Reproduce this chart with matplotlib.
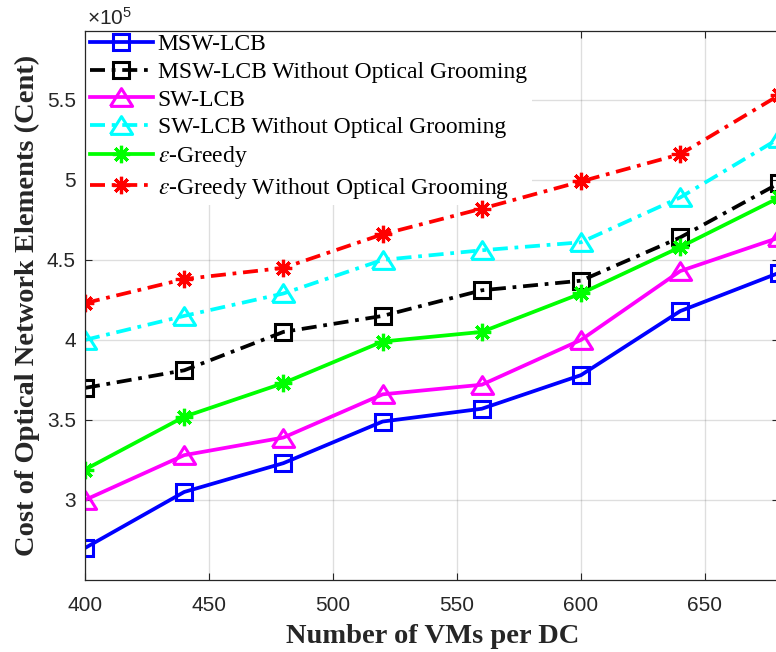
import matplotlib
matplotlib.use("Agg")
import matplotlib.pyplot as plt
import numpy as np

plt.rcParams['mathtext.fontset'] = 'custom'
plt.rcParams['mathtext.rm'] = 'Liberation Sans'
plt.rcParams['mathtext.it'] = 'Liberation Sans:italic'

# ---- data (values in units of 1e5 Cent) ----
vms = [400, 440, 480, 520, 560, 600, 640, 680]
msw_lcb = [2.70, 3.05, 3.23, 3.49, 3.57, 3.78, 4.18, 4.42]
msw_lcb_no_og = [3.70, 3.81, 4.05, 4.15, 4.31, 4.37, 4.64, 4.98]
sw_lcb = [3.00, 3.28, 3.39, 3.66, 3.72, 4.00, 4.43, 4.64]
sw_lcb_no_og = [4.00, 4.15, 4.29, 4.50, 4.56, 4.61, 4.89, 5.26]
eps_greedy = [3.19, 3.52, 3.73, 3.99, 4.05, 4.29, 4.58, 4.89]
eps_greedy_no_og = [4.23, 4.38, 4.45, 4.66, 4.82, 4.99, 5.16, 5.53]

labels = ["MSW-LCB", "MSW-LCB Without Optical Grooming", "SW-LCB",
          "SW-LCB Without Optical Grooming", r"$\epsilon$-Greedy",
          r"$\epsilon$-Greedy Without Optical Grooming"]
xticks = [400, 450, 500, 550, 600, 650]
yticks = [3.0, 3.5, 4.0, 4.5, 5.0, 5.5]
ytick_labels = ["3", "3.5", "4", "4.5", "5", "5.5"]

W, H = 776, 652
fig = plt.figure(figsize=(W / 100, H / 100), dpi=100)
L, R, T, B = 85, 779.4, 31, 580
ax = fig.add_axes([L / W, 1 - B / H, (R - L) / W, (B - T) / H])

dashdot = (0, (4.0, 1.8, 1.0, 1.8))
tri = [(-1, -0.8), (1, -0.8), (0, 0.8), (-1, -0.8)]
lw = 2.7
series = [
    (msw_lcb, (0, 0, 1), '-', 's', 12, 2.2),
    (msw_lcb_no_og, (0, 0, 0), dashdot, 's', 12, 2.2),
    (sw_lcb, (1, 0, 1), '-', tri, 16, 2.2),
    (sw_lcb_no_og, (0, 1, 1), dashdot, tri, 16, 2.2),
    (eps_greedy, (0, 1, 0), '-', (8, 2, 0), 12.5, 2.3),
    (eps_greedy_no_og, (1, 0, 0), dashdot, (8, 2, 0), 12.5, 2.3),
]
for (vals, col, ls, mk, ms, mew), lab in zip(series, labels):
    ax.plot(vms, vals, color=col, linestyle=ls, linewidth=lw, marker=mk,
            markersize=ms, markeredgewidth=mew, markerfacecolor='none',
            markeredgecolor=col, label=lab, clip_on=True)

ax.set_xlim(400, 680)
ax.set_ylim(2.5, 5.93)
ax.set_xticks(xticks)
ax.set_yticks(yticks)
ax.set_yticklabels(ytick_labels)
ax.grid(True, color=(0.15, 0.15, 0.15), alpha=0.15, linewidth=1.0)
ax.set_axisbelow(True)
gray = (0.15, 0.15, 0.15)
ax.tick_params(direction='in', length=5, width=0.8, colors=gray,
               top=True, right=True, labelsize=15)
ax.tick_params(axis='x', pad=11.5)
ax.tick_params(axis='y', pad=6.5)
for lab in ax.get_xticklabels() + ax.get_yticklabels():
    lab.set_fontfamily('Liberation Sans')
for s in ax.spines.values():
    s.set_color(gray)
    s.set_linewidth(0.9)

ax.set_xlabel("Number of VMs per DC", fontfamily='Liberation Serif',
              fontweight='bold', fontsize=20.5, color=gray, labelpad=6.5)
ax.set_ylabel("Cost of Optical Network Elements (Cent)", fontfamily='Liberation Serif',
              fontweight='bold', fontsize=20.5, color=gray, labelpad=5)

ax.text(0.003, 1.004, "×10$^{5}$", transform=ax.transAxes, ha='left', va='bottom',
        fontsize=15, color=gray, fontfamily='Liberation Sans', math_fontfamily='custom')

leg = ax.legend(loc='upper left', bbox_to_anchor=(0, 1.0035), borderaxespad=0.0,
                prop={'family': 'Liberation Serif', 'size': 17},
                frameon=True, fancybox=False, edgecolor='none', facecolor='white',
                framealpha=1.0, handlelength=2.67, handletextpad=0.21,
                labelspacing=0.26, borderpad=0.2)
leg.set_zorder(1.5)
for t in leg.get_texts():
    t.set_math_fontfamily('stix')
    t.set_color('black')

fig.savefig("out.png", dpi=100)
